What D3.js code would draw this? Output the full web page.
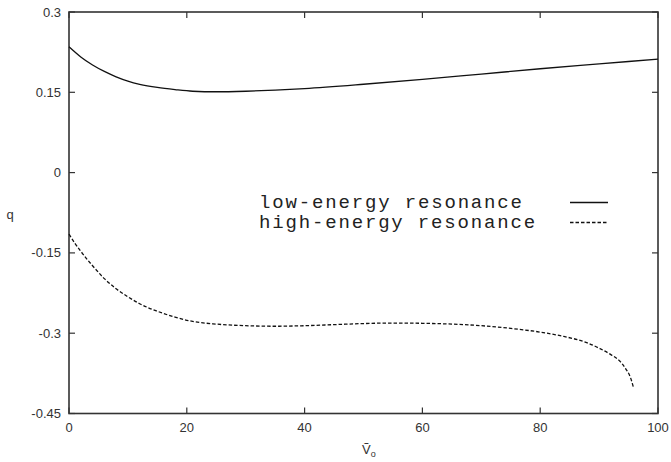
<!DOCTYPE html>
<html>
<head>
<meta charset="utf-8">
<script src="https://cdn.jsdelivr.net/npm/d3@7"></script>
<style>
  html, body { margin: 0; padding: 0; background: #fff; }
  svg { display: block; }
</style>
</head>
<body>
<svg id="chart" width="671" height="462"></svg>
<script>
// ---- data ----
const xTicks = [0, 20, 40, 60, 80, 100];
const yTicks = [0.3, 0.15, 0, -0.15, -0.3, -0.45];
const yTickLabels = ["0.3", "0.15", "0", "-0.15", "-0.3", "-0.45"];

const lowV = [0, 2, 4, 6, 8, 10, 12, 15, 18, 21, 25, 30, 35, 40, 50, 60, 70, 80, 90, 100];
const lowQ = [0.235, 0.216, 0.201, 0.189, 0.179, 0.171, 0.165, 0.159, 0.155, 0.152, 0.151, 0.152, 0.154, 0.157, 0.165, 0.174, 0.184, 0.194, 0.203, 0.212];

const highV = [0, 1, 2, 3, 4, 6, 8, 10, 12, 15, 18, 21, 25, 30, 35, 40, 45, 50, 55, 60, 65, 70, 75, 80, 84, 88, 90, 92, 93.5, 94.5, 95.3, 95.8];
const highQ = [-0.115, -0.132, -0.147, -0.161, -0.174, -0.198, -0.217, -0.232, -0.245, -0.259, -0.27, -0.278, -0.283, -0.286, -0.287, -0.286, -0.284, -0.282, -0.281, -0.2815, -0.283, -0.286, -0.291, -0.298, -0.306, -0.318, -0.328, -0.34, -0.352, -0.366, -0.382, -0.4];

const seriesNames = ["low-energy resonance", "high-energy resonance"];

// ---- layout ----
const svg = d3.select("#chart");
const pL = 69, pR = 658, pT = 12, pB = 413.5;
const x = d3.scaleLinear().domain([0, 100]).range([pL, pR]);
const y = d3.scaleLinear().domain([-0.45, 0.3]).range([pB, pT]);
const axisColor = "#333";
const fontSans = "'Liberation Sans', Arial, Helvetica, sans-serif";

// ticks (inward, mirrored)
const tl = 6;
const tg = svg.append("g").attr("stroke", axisColor).attr("stroke-width", 1.2);
xTicks.forEach(v => {
  tg.append("line").attr("x1", x(v)).attr("x2", x(v)).attr("y1", pB).attr("y2", pB - tl);
  tg.append("line").attr("x1", x(v)).attr("x2", x(v)).attr("y1", pT).attr("y2", pT + tl);
});
yTicks.forEach(v => {
  tg.append("line").attr("x1", pL).attr("x2", pL + tl).attr("y1", y(v)).attr("y2", y(v));
  tg.append("line").attr("x1", pR).attr("x2", pR - tl).attr("y1", y(v)).attr("y2", y(v));
});

// frame
svg.append("rect").attr("x", pL).attr("y", pT).attr("width", pR - pL).attr("height", pB - pT)
  .attr("fill", "none").attr("stroke", axisColor).attr("stroke-width", 1.6);

// tick labels
svg.append("g").selectAll("text").data(xTicks).join("text")
  .attr("x", d => x(d)).attr("y", pB + 18.5)
  .attr("text-anchor", "middle").attr("font-family", fontSans).attr("font-size", 13).attr("fill", axisColor)
  .text(d => d);
svg.append("g").selectAll("text").data(yTicks).join("text")
  .attr("x", pL - 8).attr("y", d => y(d) + 4.5)
  .attr("text-anchor", "end").attr("font-family", fontSans).attr("font-size", 13).attr("fill", axisColor)
  .text((d, i) => yTickLabels[i]);

// axis titles
svg.append("text").attr("x", 10).attr("y", 219).attr("text-anchor", "middle")
  .attr("font-family", fontSans).attr("font-size", 13).attr("fill", axisColor).text("q");
const xl = svg.append("text").attr("x", 362).attr("y", 454)
  .attr("font-family", fontSans).attr("font-size", 13).attr("fill", axisColor);
xl.append("tspan").text("\u1E7C");
xl.append("tspan").attr("font-size", 9).attr("dy", 3).text("o");

// curves
const line = d3.line().x(d => x(d[0])).y(d => y(d[1])).curve(d3.curveMonotoneX);
const lowData = lowV.map((v, i) => [v, lowQ[i]]);
const highData = highV.map((v, i) => [v, highQ[i]]);
svg.append("path").datum(lowData).attr("d", line)
  .attr("fill", "none").attr("stroke", "#111").attr("stroke-width", 1.3);
svg.append("path").datum(highData).attr("d", line)
  .attr("fill", "none").attr("stroke", "#111").attr("stroke-width", 1.3).attr("stroke-dasharray", "3.5,2");

// legend
const fontMono = "'Courier New', 'Liberation Mono', monospace";
const lg = svg.append("g");
seriesNames.forEach((name, i) => {
  const by = 202.5 + i * 20;
  lg.append("text").attr("x", 259).attr("y", by + 5)
    .attr("font-family", fontMono).attr("font-size", 19).attr("fill", "#222")
    .attr("textLength", name.length * 13.15).attr("lengthAdjust", "spacing")
    .text(name);
  lg.append("line").attr("x1", 570).attr("x2", 608).attr("y1", by).attr("y2", by)
    .attr("stroke", "#111").attr("stroke-width", 1.3)
    .attr("stroke-dasharray", i === 1 ? "3.5,2" : null);
});
</script>
</body>
</html>
